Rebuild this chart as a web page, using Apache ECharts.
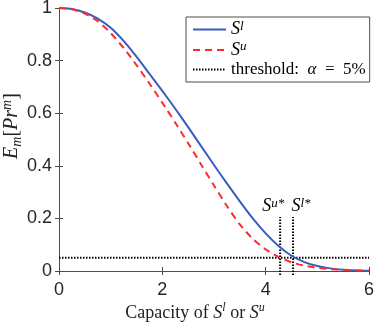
<!DOCTYPE html>
<html>
<head>
<meta charset="utf-8">
<script src="https://cdn.jsdelivr.net/npm/echarts@6/dist/echarts.min.js"></script>
<style>
  html, body { margin: 0; padding: 0; background: #fff; }
  #main { width: 374px; height: 327px; }
</style>
</head>
<body>
<div id="main"></div>
<script>
  // capacity values (x)
  var xs = [0, 0.25, 0.5, 0.75, 1, 1.25, 1.5, 1.75, 2, 2.25, 2.5, 2.75, 3,
            3.25, 3.5, 3.75, 4, 4.25, 4.5, 4.75, 5, 5.25, 5.5, 5.75, 6];
  // S^l curve
  var sLower = [1.000, 0.996, 0.983, 0.960, 0.925, 0.875, 0.815, 0.750, 0.685, 0.617,
                0.547, 0.475, 0.403, 0.333, 0.265, 0.200, 0.143, 0.095, 0.058, 0.034,
                0.019, 0.010, 0.005, 0.002, 0.001];
  // S^u curve
  var sUpper = [1.000, 0.995, 0.979, 0.950, 0.905, 0.848, 0.783, 0.713, 0.640, 0.564,
                0.486, 0.405, 0.325, 0.247, 0.177, 0.122, 0.082, 0.053, 0.033, 0.020,
                0.012, 0.007, 0.004, 0.002, 0.001];
  var threshold = 0.05;
  var starX = [4.28, 4.53];          // S^u*, S^l*
  var starY = [-0.015, 0.205];       // vertical marker span
  var starLabels = ['u*', 'l*'];

  var serif = 'Liberation Serif';
  var sans = 'Liberation Sans';
  var axisColor = '#4d4d4d';

  function pairs(a, b) {
    return a.map(function (v, i) { return [v, b[i]]; });
  }

  var rich = {
    s: { fontFamily: serif, fontStyle: 'italic', fontSize: 18, color: '#000', lineHeight: 19 },
    sup: { fontFamily: serif, fontStyle: 'italic', fontSize: 13, color: '#000', verticalAlign: 'top', lineHeight: 19 },
    t: { fontFamily: serif, fontSize: 17, color: '#000', lineHeight: 19 },
    g: { fontFamily: serif, fontStyle: 'italic', fontSize: 17, color: '#000', lineHeight: 19 }
  };

  var chart = echarts.init(document.getElementById('main'), null, { renderer: 'canvas' });

  var series = [
    {
      name: 'Sl', type: 'line', data: pairs(xs, sLower), symbol: 'none', smooth: 0.2,
      lineStyle: { color: '#3a5cbf', width: 2 }, itemStyle: { color: '#3a5cbf' }, z: 3
    },
    {
      name: 'Su', type: 'line', data: pairs(xs, sUpper), symbol: 'none', smooth: 0.2,
      lineStyle: { color: '#ff2a2a', width: 2, type: [7, 5] }, itemStyle: { color: '#ff2a2a' }, z: 4
    },
    {
      name: 'threshold', type: 'line', data: [[0, threshold], [6, threshold]], symbol: 'none',
      lineStyle: { color: '#000', width: 2, type: [1.5, 1.5] }, itemStyle: { color: '#000' }, z: 2
    }
  ];
  var labelOffsets = [[-7, 0], [8, 0]];
  starX.forEach(function (x, i) {
    series.push({
      name: 'star' + i, type: 'line', clip: false, symbol: 'circle', symbolSize: 0.01,
      data: [[x, starY[0]], [x, starY[1]]],
      lineStyle: { color: '#000', width: 2, type: [1.5, 1.5] }, itemStyle: { color: '#000' },
      label: {
        show: true, position: 'top', distance: 1, offset: labelOffsets[i],
        formatter: function (p) { return p.dataIndex === 1 ? '{s|S}{sup|' + starLabels[i] + '}' : ''; },
        rich: rich
      },
      z: 2
    });
  });

  var option = {
    backgroundColor: '#fff',
    animation: false,
    grid: { left: 59, right: 5, top: 8, bottom: 56, containLabel: false, outerBoundsMode: 'none' },
    legend: {
      data: ['Sl', 'Su', 'threshold'],
      orient: 'vertical', left: 186, top: 17,
      padding: [3, 4, 4, 6], itemGap: 2, itemWidth: 33, itemHeight: 15,
      itemStyle: { opacity: 0 },
      borderColor: axisColor, borderWidth: 1, backgroundColor: '#fff',
      formatter: function (n) {
        if (n === 'Sl') return '{s|S}{sup|l}';
        if (n === 'Su') return '{s|S}{sup|u}';
        return '{t|threshold:  }{g|α}{t|  =  5%}';
      },
      textStyle: { rich: rich }
    },
    xAxis: [
      {
        type: 'value', min: 0, max: 6, interval: 2, position: 'bottom',
        name: '{t|Capacity of }{s|S}{sup|l}{t| or }{s|S}{sup|u}{pad|}',
        nameLocation: 'middle', nameGap: 31, nameMoveOverlap: false,
        nameTextStyle: { rich: {
          t: { fontFamily: serif, fontSize: 18, color: '#222' },
          s: { fontFamily: serif, fontStyle: 'italic', fontSize: 18, color: '#222' },
          sup: { fontFamily: serif, fontStyle: 'italic', fontSize: 12, color: '#222', verticalAlign: 'top', lineHeight: 22 },
          pad: { width: 38 }
        } },
        axisLine: { lineStyle: { color: axisColor, width: 1 } },
        axisTick: { inside: true, length: 4, lineStyle: { color: axisColor } },
        axisLabel: { fontFamily: sans, fontSize: 18, color: '#262626', margin: 10 },
        splitLine: { show: false }
      },
      {
        type: 'value', min: 0, max: 6, interval: 2, position: 'top',
        axisLine: { lineStyle: { color: axisColor, width: 1 } },
        axisTick: { inside: true, length: 4, lineStyle: { color: axisColor } },
        axisLabel: { show: false }, splitLine: { show: false }
      }
    ],
    yAxis: [
      {
        type: 'value', min: 0, max: 1, interval: 0.2, position: 'left',
        name: '{pad|}{e|E}{sub|m}{t|[}{e|Pr}{sup|m}{t|]}',
        nameLocation: 'middle', nameRotate: 90, nameGap: 35, nameMoveOverlap: false,
        nameTextStyle: { rich: {
          e: { fontFamily: serif, fontStyle: 'italic', fontSize: 20, color: '#222' },
          t: { fontFamily: serif, fontSize: 20, color: '#222' },
          sub: { fontFamily: serif, fontStyle: 'italic', fontSize: 14, color: '#222', verticalAlign: 'bottom', lineHeight: 24 },
          sup: { fontFamily: serif, fontStyle: 'italic', fontSize: 14, color: '#222', verticalAlign: 'top', lineHeight: 24 },
          pad: { width: 27 }
        } },
        axisLine: { lineStyle: { color: axisColor, width: 1 } },
        axisTick: { inside: true, length: 4, lineStyle: { color: axisColor } },
        axisLabel: {
          fontFamily: sans, fontSize: 18, color: '#262626', margin: 7,
          formatter: function (v) { return String(+v.toFixed(1)); }
        },
        splitLine: { show: false }
      },
      {
        type: 'value', min: 0, max: 1, interval: 0.2, position: 'right',
        axisLine: { show: true, lineStyle: { color: axisColor, width: 1 } },
        axisTick: { show: true, inside: true, length: 4, lineStyle: { color: axisColor } },
        axisLabel: { show: false }, splitLine: { show: false }
      }
    ],
    series: series
  };

  chart.setOption(option);
</script>
</body>
</html>
